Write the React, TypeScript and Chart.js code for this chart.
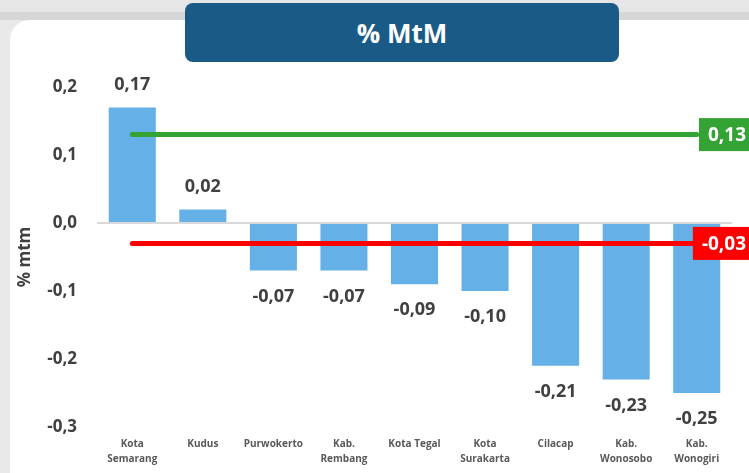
import React, { useEffect, useRef } from "react";
import { Chart, registerables } from "chart.js";

Chart.register(...registerables);

const categories: (string | string[])[] = [
  ["Kota", "Semarang"],
  "Kudus",
  "Purwokerto",
  ["Kab.", "Rembang"],
  "Kota Tegal",
  ["Kota", "Surakarta"],
  "Cilacap",
  ["Kab.", "Wonosobo"],
  ["Kab.", "Wonogiri"],
];
const mtmValues = [0.17, 0.02, -0.07, -0.07, -0.09, -0.1, -0.21, -0.23, -0.25];
const provinceValue = 0.13;
const nationalValue = -0.03;
const yMin = -0.3;
const yMax = 0.2;
const yStep = 0.1;

const FONT = "'Open Sans', 'DejaVu Sans', sans-serif";
const fmt = (v: number, d: number) => {
  const s = (Math.abs(v) < 1e-9 ? 0 : v).toFixed(d).replace(".", ",");
  return s;
};

const overlayPlugin = {
  id: "overlay",
  afterDatasetsDraw(chart: any) {
    const { ctx, chartArea } = chart;
    const xs = chart.scales.x;
    const ys = chart.scales.y;
    const meta = chart.getDatasetMeta(0);

    // reference lines
    const x0 = xs.getPixelForValue(0);
    const xN = xs.getPixelForValue(mtmValues.length - 1);
    const refs = [
      { v: provinceValue, color: "#33a333", end: xN },
      { v: nationalValue, color: "#ff0000", end: chart.width - 40 },
    ];
    ctx.save();
    ctx.lineCap = "round";
    ctx.lineWidth = 5;
    refs.forEach((r) => {
      const y = ys.getPixelForValue(r.v);
      ctx.strokeStyle = r.color;
      ctx.beginPath();
      ctx.moveTo(x0, y);
      ctx.lineTo(r.end, y);
      ctx.stroke();
    });

    // boxes
    ctx.font = `bold 19px ${FONT}`;
    ctx.textBaseline = "middle";
    refs.forEach((r) => {
      const y = ys.getPixelForValue(r.v);
      const label = fmt(r.v, 2);
      const w = ctx.measureText(label).width;
      const right = chartArea.right + 14;
      const left = right - w - 9;
      ctx.fillStyle = r.color;
      ctx.fillRect(left, y - 16.5, chart.width - left, 33);
      ctx.fillStyle = "#ffffff";
      ctx.textAlign = "right";
      ctx.fillText(label, right, y + 1);
    });

    // data labels
    ctx.font = `bold 18px ${FONT}`;
    ctx.fillStyle = "#404040";
    ctx.textAlign = "center";
    meta.data.forEach((bar: any, i: number) => {
      const v = mtmValues[i];
      const y = v >= 0 ? bar.y - 23 : bar.y + 26;
      ctx.fillText(fmt(v, 2), bar.x, y);
    });
    ctx.restore();
  },
};

export default function App() {
  const ref = useRef<HTMLCanvasElement>(null);
  useEffect(() => {
    if (!ref.current) return;
    const chart = new Chart(ref.current, {
      type: "bar",
      data: {
        labels: categories,
        datasets: [
          {
            data: mtmValues,
            backgroundColor: "#65b0e6",
            barPercentage: 0.667,
            categoryPercentage: 1,
          },
        ],
      },
      options: {
        responsive: false,
        animation: false,
        layout: { padding: { top: 87, right: 17, bottom: 0, left: 0 } },
        plugins: { legend: { display: false }, tooltip: { enabled: false } },
        scales: {
          x: {
            grid: { display: false, drawTicks: false },
            border: { display: false },
            ticks: {
              autoSkip: false,
              maxRotation: 0,
              padding: 9,
              color: "#595959",
              font: { family: FONT, weight: "bold", size: 10, lineHeight: 1.55 },
            },
            afterFit: (s: any) => {
              s.height = 46;
            },
          },
          y: {
            min: yMin,
            max: yMax,
            grid: {
              drawTicks: false,
              lineWidth: 2,
              color: (c: any) => (Math.abs(c.tick.value) < 1e-9 ? "#d9d9d9" : "rgba(0,0,0,0)"),
            },
            border: { display: false },
            ticks: {
              stepSize: yStep,
              padding: 20,
              color: "#404040",
              font: { family: FONT, weight: "bold", size: 17 },
              callback: (v: any) => fmt(Number(v), 1),
            },
            title: {
              display: true,
              text: "% mtm",
              color: "#404040",
              font: { family: FONT, weight: "bold", size: 17 },
              padding: { top: 15, bottom: 0 },
            },
            afterFit: (s: any) => {
              s.width = 97;
            },
          },
        },
      },
      plugins: [overlayPlugin],
    });
    return () => chart.destroy();
  }, []);

  return (
    <div
      style={{
        position: "absolute",
        left: 0,
        top: 0,
        width: 749,
        height: 473,
        overflow: "hidden",
        background:
          "linear-gradient(to bottom, #e6e6e6 0px, #e6e6e6 12px, #d6d6d6 12px, #d6d6d6 20px, #e9e9e9 20px)",
      }}
    >
      <div
        style={{
          position: "absolute",
          left: 10,
          top: 20,
          right: 0,
          bottom: 0,
          background: "#ffffff",
          borderTopLeftRadius: 20,
        }}
      />
      <div
        style={{
          position: "absolute",
          left: 185,
          top: 3,
          width: 434,
          height: 59,
          background: "#1a5a87",
          borderRadius: 8,
          color: "#ffffff",
          fontFamily: FONT,
          fontWeight: "bold",
          fontSize: 26,
          display: "flex",
          alignItems: "center",
          justifyContent: "center",
        }}
      >
        % MtM
      </div>
      <canvas
        ref={ref}
        width={749}
        height={473}
        style={{ position: "absolute", left: 0, top: 0 }}
      />
    </div>
  );
}
